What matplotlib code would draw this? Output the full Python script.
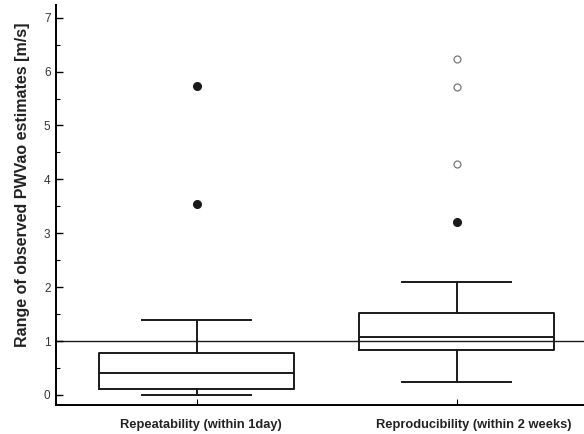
import matplotlib.pyplot as plt

# box statistics
labels = ['Repeatability (within 1day)', 'Reproducibility (within 2 weeks)']
positions = [1, 2]
medians = [0.40, 1.08]
q1s = [0.11, 0.835]
q3s = [0.77, 1.52]
whis_lo = [0.0, 0.235]
whis_hi = [1.40, 2.09]

# outliers: filled and open markers
filled_x = [1, 1, 2]
filled_y = [5.74, 3.54, 3.20]
open_x = [2, 2, 2]
open_y = [6.23, 5.72, 4.29]

ref_level = 1.0

plt.rcParams['font.family'] = ['Liberation Sans', 'DejaVu Sans']
fig = plt.figure(figsize=(5.84, 4.34), dpi=100)
ax = fig.add_axes([0.096, 0.067, 0.904, 0.922])

stats = []
for i in range(2):
    stats.append(dict(med=medians[i], q1=q1s[i], q3=q3s[i],
                      whislo=whis_lo[i], whishi=whis_hi[i], fliers=[]))

lw = 1.4
ax.bxp(stats, positions=positions, widths=0.75, capwidths=0.42,
       showfliers=False,
       boxprops=dict(color='#1a1a1a', linewidth=lw),
       medianprops=dict(color='#1a1a1a', linewidth=lw),
       whiskerprops=dict(color='#1a1a1a', linewidth=lw),
       capprops=dict(color='#1a1a1a', linewidth=lw))

ax.axhline(ref_level, color='#1a1a1a', linewidth=1.0, zorder=0)

ax.plot(filled_x, filled_y, 'o', color='#1a1a1a', markersize=5.5)
ax.plot(open_x, open_y, 'o', markerfacecolor='white', markeredgecolor='#777777',
        markersize=5, markeredgewidth=0.9)

ax.set_xlim(0.459, 2.49)
ax.set_ylim(-0.185, 7.24)
ax.set_yticks(range(0, 8))
ax.set_yticks([0.5 + k for k in range(7)], minor=True)
ax.set_xticks(positions)
ax.set_xticklabels([])
ax.tick_params(axis='x', direction='in', length=4, width=0.8)
ax.tick_params(axis='y', which='major', direction='in', length=5, width=1.0,
               labelsize=8.5, labelcolor='#333333', pad=4)
ax.tick_params(axis='y', which='minor', direction='in', length=3, width=0.8)

# category labels, placed as in the scan
label_x = [1.015, 2.065]
for lx, txt in zip(label_x, labels):
    ax.text(lx, -0.55, txt, ha='center', va='center', fontsize=9.3,
            fontweight='bold', color='#222222')

ax.spines['top'].set_visible(False)
ax.spines['right'].set_visible(False)
ax.spines['left'].set_linewidth(1.4)
ax.spines['bottom'].set_linewidth(1.4)

ax.set_ylabel('Range of observed PWVao estimates [m/s]', fontsize=11.5,
              fontweight='bold', color='#222222')
ax.yaxis.set_label_coords(-0.05, 0.55)

fig.savefig('out.png', dpi=100)
